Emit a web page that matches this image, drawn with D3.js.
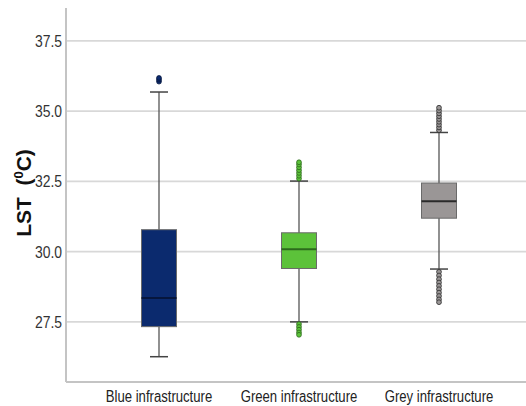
<!DOCTYPE html>
<html>
<head>
<meta charset="utf-8">
<script src="https://cdn.jsdelivr.net/npm/d3@7"></script>
<style>
  body { margin: 0; background: #fff; }
  svg { display: block; }
</style>
</head>
<body>
<div id="vis"></div>
<script>
const W = 526, H = 406;
const margin = { top: 8, right: 0, bottom: 24, left: 66 };

const categories = ["Blue infrastructure", "Green infrastructure", "Grey infrastructure"];
const boxColors = ["#0b2a6e", "#5cc23a", "#9a9696"];
const medianColors = ["#06163d", "#2c6a1c", "#2a2a2a"];

const whiskerLow = [26.26, 27.5, 29.38];
const q1 = [27.33, 29.4, 31.19];
const median = [28.35, 30.08, 31.79];
const q3 = [30.78, 30.67, 32.44];
const whiskerHigh = [35.68, 32.51, 34.24];

const outliersBlue = [36.05, 36.12, 36.18];
const outliersGreen = [32.6, 32.7, 32.8, 32.9, 33.0, 33.1, 33.18, 27.42, 27.32, 27.22, 27.12, 27.04];
const outliersGrey = [34.32, 34.42, 34.52, 34.62, 34.72, 34.82, 34.92, 35.02, 35.12,
  29.28, 29.15, 29.02, 28.9, 28.78, 28.66, 28.54, 28.42, 28.3, 28.2];
const outliers = [outliersBlue, outliersGreen, outliersGrey];

const yTicks = [27.5, 30.0, 32.5, 35.0, 37.5];
const yDomain = [25.36, 38.67];

const svg = d3.select("#vis").append("svg").attr("width", W).attr("height", H);

const x = d3.scaleBand().domain(categories).range([89, 509]).padding(0);
const y = d3.scaleLinear().domain(yDomain).range([H - margin.bottom, margin.top]);

const boxW = 35, capW = 18;
const narrow = "scale(0.82,1)"; // no narrow font installed, squeeze Liberation Sans

// gridlines
svg.append("g")
  .selectAll("line")
  .data(yTicks)
  .join("line")
  .attr("x1", margin.left)
  .attr("x2", W)
  .attr("y1", (d) => y(d))
  .attr("y2", (d) => y(d))
  .attr("stroke", "#d8d8d8")
  .attr("stroke-width", 1.6);

// axis lines
svg.append("line")
  .attr("x1", margin.left).attr("x2", margin.left)
  .attr("y1", margin.top).attr("y2", y.range()[0])
  .attr("stroke", "#c4c4c4").attr("stroke-width", 2);
svg.append("line")
  .attr("x1", margin.left).attr("x2", W)
  .attr("y1", y.range()[0]).attr("y2", y.range()[0])
  .attr("stroke", "#c4c4c4").attr("stroke-width", 2);

const yAxis = svg.append("g")
  .attr("transform", `translate(${margin.left - 4},0)`)
  .call(d3.axisLeft(y).tickValues(yTicks).tickFormat(d3.format(".1f")).tickSize(0).tickPadding(0));
yAxis.select(".domain").remove();
yAxis.selectAll("text")
  .attr("transform", narrow)
  .attr("font-family", "'Liberation Sans', Arial, sans-serif")
  .attr("font-size", 17)
  .attr("fill", "#333");

const xAxis = svg.append("g")
  .attr("transform", `translate(0,${y.range()[0]})`)
  .call(d3.axisBottom(x).tickSize(0).tickPadding(9));
xAxis.select(".domain").remove();
xAxis.selectAll("text")
  .attr("transform", narrow)
  .attr("font-family", "'Liberation Sans', Arial, sans-serif")
  .attr("font-size", 16)
  .attr("fill", "#222");

// y label
svg.append("text")
  .attr("transform", "translate(31,193) rotate(-90)")
  .attr("text-anchor", "middle")
  .attr("font-family", "'Liberation Sans', Arial, sans-serif")
  .attr("font-weight", "bold")
  .attr("font-size", 21)
  .attr("fill", "#111")
  .call((t) => {
    t.append("tspan").text("LST\u00a0\u00a0(");
    t.append("tspan").attr("font-size", 13).attr("dy", -8).text("0");
    t.append("tspan").attr("dy", 8).text("C)");
  });

// boxes
const boxes = svg.append("g")
  .selectAll("g")
  .data(categories)
  .join("g")
  .attr("transform", (d) => `translate(${x(d) + x.bandwidth() / 2},0)`);

boxes.append("line")
  .attr("y1", (d, i) => y(whiskerLow[i]))
  .attr("y2", (d, i) => y(whiskerHigh[i]))
  .attr("stroke", "#555").attr("stroke-width", 1.3);

boxes.selectAll(".cap")
  .data((d, i) => [whiskerLow[i], whiskerHigh[i]])
  .join("line")
  .attr("class", "cap")
  .attr("x1", -capW / 2).attr("x2", capW / 2)
  .attr("y1", (v) => y(v)).attr("y2", (v) => y(v))
  .attr("stroke", "#444").attr("stroke-width", 1.5);

boxes.append("rect")
  .attr("x", -boxW / 2)
  .attr("width", boxW)
  .attr("y", (d, i) => y(q3[i]))
  .attr("height", (d, i) => y(q1[i]) - y(q3[i]))
  .attr("fill", (d, i) => boxColors[i])
  .attr("stroke", "#6a6a6a")
  .attr("stroke-width", 1);

boxes.append("line")
  .attr("x1", -boxW / 2).attr("x2", boxW / 2)
  .attr("y1", (d, i) => y(median[i]))
  .attr("y2", (d, i) => y(median[i]))
  .attr("stroke", (d, i) => medianColors[i])
  .attr("stroke-width", 2);

boxes.selectAll(".out")
  .data((d, i) => outliers[i].map((v) => ({ v, i })))
  .join("circle")
  .attr("class", "out")
  .attr("cx", 0)
  .attr("cy", (o) => y(o.v))
  .attr("r", 2.4)
  .attr("fill", (o) => boxColors[o.i])
  .attr("stroke", (o) => medianColors[o.i])
  .attr("stroke-width", 0.8);
</script>
</body>
</html>
